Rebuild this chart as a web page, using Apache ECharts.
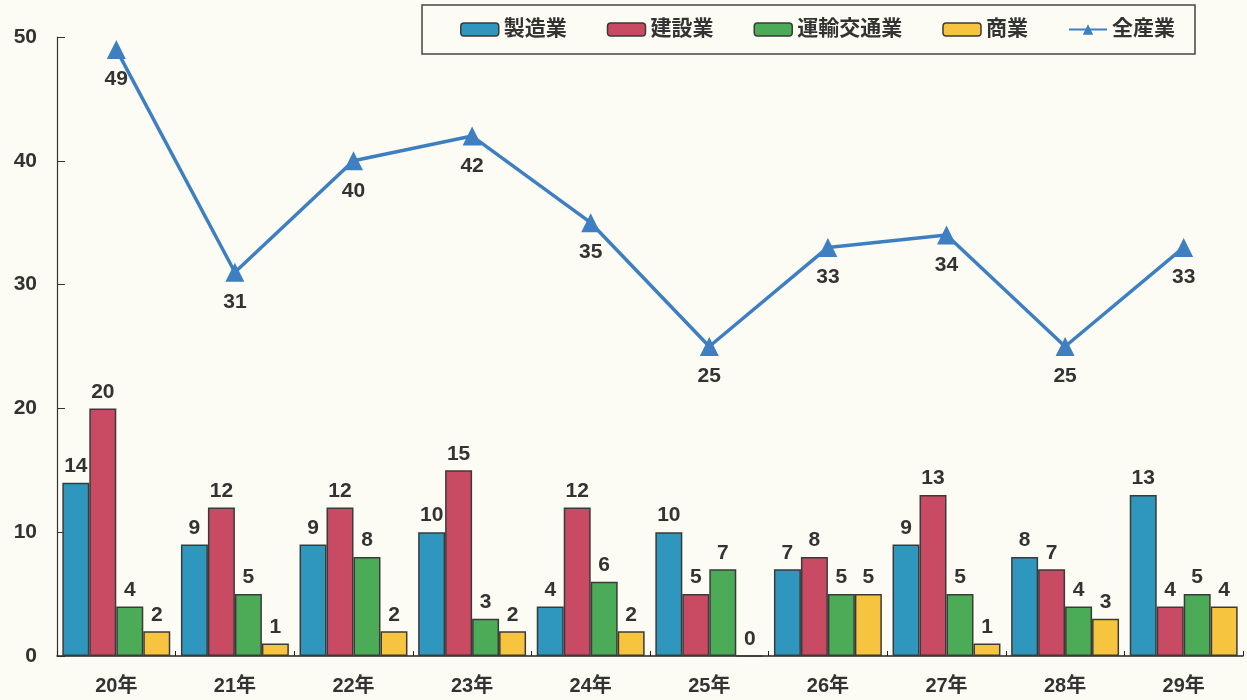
<!DOCTYPE html>
<html><head><meta charset="utf-8">
<script src="https://cdn.jsdelivr.net/npm/echarts@6/dist/echarts.min.js"></script>
<style>html,body{margin:0;padding:0;background:#fcfcf4;}#c{width:1247px;height:700px;}</style>
</head><body><div id="c"></div>
<script>
const categories = ['20年','21年','22年','23年','24年','25年','26年','27年','28年','29年'];
const seizo = [14, 9, 9, 10, 4, 10, 7, 9, 8, 13];
const kensetsu = [20, 12, 12, 15, 12, 5, 8, 13, 7, 4];
const unyu = [4, 5, 8, 3, 6, 7, 5, 5, 4, 5];
const shogyo = [2, 1, 2, 2, 2, 0, 5, 1, 3, 4];
const zensangyo = [49, 31, 40, 42, 35, 25, 33, 34, 25, 33];
const yTicks = [0, 10, 20, 30, 40, 50];

const font = '"Liberation Sans", "Noto Sans CJK JP", sans-serif';
const txt = '#333';
function bar(name, data, color) {
  return {
    name, type: 'bar', data, barGap: '0%', barCategoryGap: '9%',
    itemStyle: { color, borderColor: '#3a3a3a', borderWidth: 1.5 },
    label: { show: true, position: 'top', distance: 6, color: txt, fontWeight: 'bold', fontSize: 21, fontFamily: font }
  };
}
const chart = echarts.init(document.getElementById('c'));
chart.setOption({
  backgroundColor: '#fcfcf4',
  animation: false,
  textStyle: { fontFamily: font },
  grid: { left: 57, right: 4, top: 37, bottom: 44 },
  legend: {
    top: 5, left: 422, width: 775, height: 51,
    padding: [14, 20, 14, 38],
    itemGap: 40, itemWidth: 38, itemHeight: 13,
    borderColor: '#444', borderWidth: 1.5,
    textStyle: { color: txt, fontWeight: 'bold', fontSize: 21, fontFamily: font },
    data: [
      { name: '製造業', itemStyle: { borderColor: '#3a3a3a', borderWidth: 1.5 } },
      { name: '建設業', itemStyle: { borderColor: '#3a3a3a', borderWidth: 1.5 } },
      { name: '運輸交通業', itemStyle: { borderColor: '#3a3a3a', borderWidth: 1.5 } },
      { name: '商業', itemStyle: { borderColor: '#3a3a3a', borderWidth: 1.5 } },
      { name: '全産業' }
    ]
  },
  xAxis: {
    type: 'category', data: categories,
    axisLine: { lineStyle: { color: '#222', width: 1.5 } },
    axisTick: { show: true, inside: true, length: 5, lineStyle: { color: '#222' } },
    axisLabel: { color: txt, fontWeight: 'bold', fontSize: 20, margin: 20, fontFamily: font }
  },
  yAxis: {
    type: 'value', min: yTicks[0], max: yTicks[yTicks.length - 1], interval: 10,
    axisLine: { show: true, lineStyle: { color: '#333', width: 1.2 } },
    axisTick: { show: true, inside: true, length: 8, lineStyle: { color: '#333' } },
    splitLine: { show: false },
    axisLabel: { color: txt, fontWeight: 'bold', fontSize: 21, margin: 20, fontFamily: font }
  },
  series: [
    bar('製造業', seizo, '#2f97bd'),
    bar('建設業', kensetsu, '#c94a63'),
    bar('運輸交通業', unyu, '#4cab57'),
    bar('商業', shogyo, '#f6c43e'),
    {
      name: '全産業', type: 'line', data: zensangyo,
      symbol: 'triangle', symbolSize: 19,
      lineStyle: { color: '#3d7fc1', width: 3.5 },
      itemStyle: { color: '#3d7fc1' },
      label: { show: true, position: 'bottom', distance: 10, color: txt, fontWeight: 'bold', fontSize: 21, fontFamily: font }
    }
  ]
});
</script></body></html>
